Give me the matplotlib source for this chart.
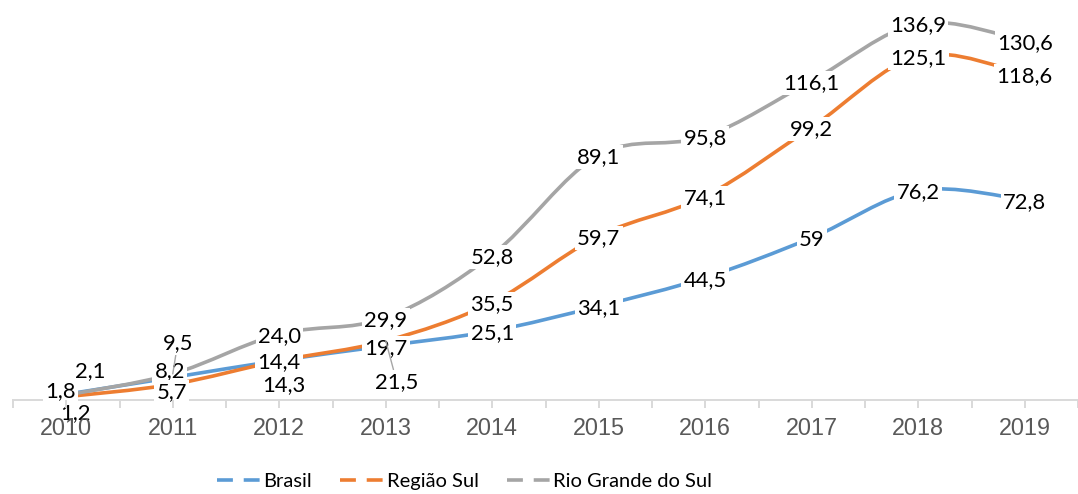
import matplotlib

matplotlib.use("Agg")
import matplotlib.pyplot as plt
from matplotlib.lines import Line2D
from matplotlib.patches import PathPatch
from matplotlib.path import Path

years = ["2010", "2011", "2012", "2013", "2014", "2015", "2016", "2017", "2018", "2019"]
brasil = [2.1, 8.2, 14.4, 19.7, 25.1, 34.1, 44.5, 59, 76.2, 72.8]
regiao_sul = [1.2, 5.7, 14.3, 21.5, 35.5, 59.7, 74.1, 99.2, 125.1, 118.6]
rio_grande = [1.8, 9.5, 24.0, 29.9, 52.8, 89.1, 95.8, 116.1, 136.9, 130.6]

series = [("Brasil", brasil, "#5B9BD5"),
          ("Região Sul", regiao_sul, "#ED7D31"),
          ("Rio Grande do Sul", rio_grande, "#A5A5A5")]

# labels that were pushed off their points (pixels: right, down)
nudges = {"Brasil": {0: (24, -25), 1: (-3, -8)},
          "Região Sul": {0: (9, 14), 1: (-1, 6), 2: (5, 22), 3: (11, 39)},
          "Rio Grande do Sul": {0: (-6, -6), 1: (5, -33)}}
leaders = {("Região Sul", 3), ("Rio Grande do Sul", 1)}


def fmt(v):
    return str(v) if isinstance(v, int) else f"{v:.1f}".replace(".", ",")


def smooth(xs, ys):
    # excel-style smoothed line: cubic bezier with catmull-rom handles
    pts = list(zip(xs, ys))
    n = len(pts)
    verts, codes = [pts[0]], [Path.MOVETO]
    for i in range(n - 1):
        p0, p1, p2, p3 = pts[max(i - 1, 0)], pts[i], pts[i + 1], pts[min(i + 2, n - 1)]
        c1 = (p1[0] + (p2[0] - p0[0]) / 6, p1[1] + (p2[1] - p0[1]) / 6)
        c2 = (p2[0] - (p3[0] - p1[0]) / 6, p2[1] - (p3[1] - p1[1]) / 6)
        verts += [c1, c2, p2]
        codes += [Path.CURVE4] * 3
    return Path(verts, codes)


fig = plt.figure(figsize=(10.78, 4.94), dpi=100)
ax = fig.add_axes([13 / 1078, 94 / 494, 1065 / 1078, 400 / 494])
ax.set_xlim(-0.5, (1078 - 67) / 107.5)
ax.set_ylim(0, 400 / 2.75)

x = list(range(len(years)))
for name, values, color in series:
    ax.add_patch(PathPatch(smooth(x, values), fill=False, edgecolor=color, lw=2.6,
                           capstyle="round", joinstyle="round", zorder=2))

for name, values, color in series:
    for i, v in enumerate(values):
        dx, dy = nudges[name].get(i, (0, 0))
        arrow = None
        if (name, i) in leaders:
            arrow = dict(arrowstyle="-", color="#A6A6A6", lw=1.0, shrinkA=0, shrinkB=0)
        ax.annotate(fmt(v), xy=(i, v), xytext=(dx * 0.72, -(dy + 2) * 0.72), textcoords="offset points",
                    ha="center", va="center", fontsize=15.8, family="Lato", color="black",
                    bbox=dict(boxstyle="square,pad=0.1", fc="white", ec="none"),
                    arrowprops=arrow, zorder=3)

for side in ["left", "right", "top"]:
    ax.spines[side].set_visible(False)
ax.spines["bottom"].set_color("#D9D9D9")
ax.spines["bottom"].set_linewidth(1.4)
ax.set_yticks([])
ax.set_xticks(x)
ax.set_xticklabels(years, family="Liberation Sans", fontsize=16.8, color="#595959")
ax.set_xticks([i - 0.5 for i in range(len(years) + 1)], minor=True)
ax.tick_params(axis="x", which="both", length=6, width=1.4, color="#D9D9D9", pad=6)
ax.xaxis.set_zorder(4)

handles = [Line2D([], [], color=c, lw=2.6, dashes=(4.4, 3.0)) for _, _, c in series]
fig.legend(handles, [s[0] for s in series], loc="center", bbox_to_anchor=(0.431, 0.026), ncol=3,
           frameon=False, prop={"family": "Lato", "size": 14.5}, handlelength=2.15,
           handletextpad=0.15, columnspacing=1.4)

fig.savefig("out.png", dpi=100)
